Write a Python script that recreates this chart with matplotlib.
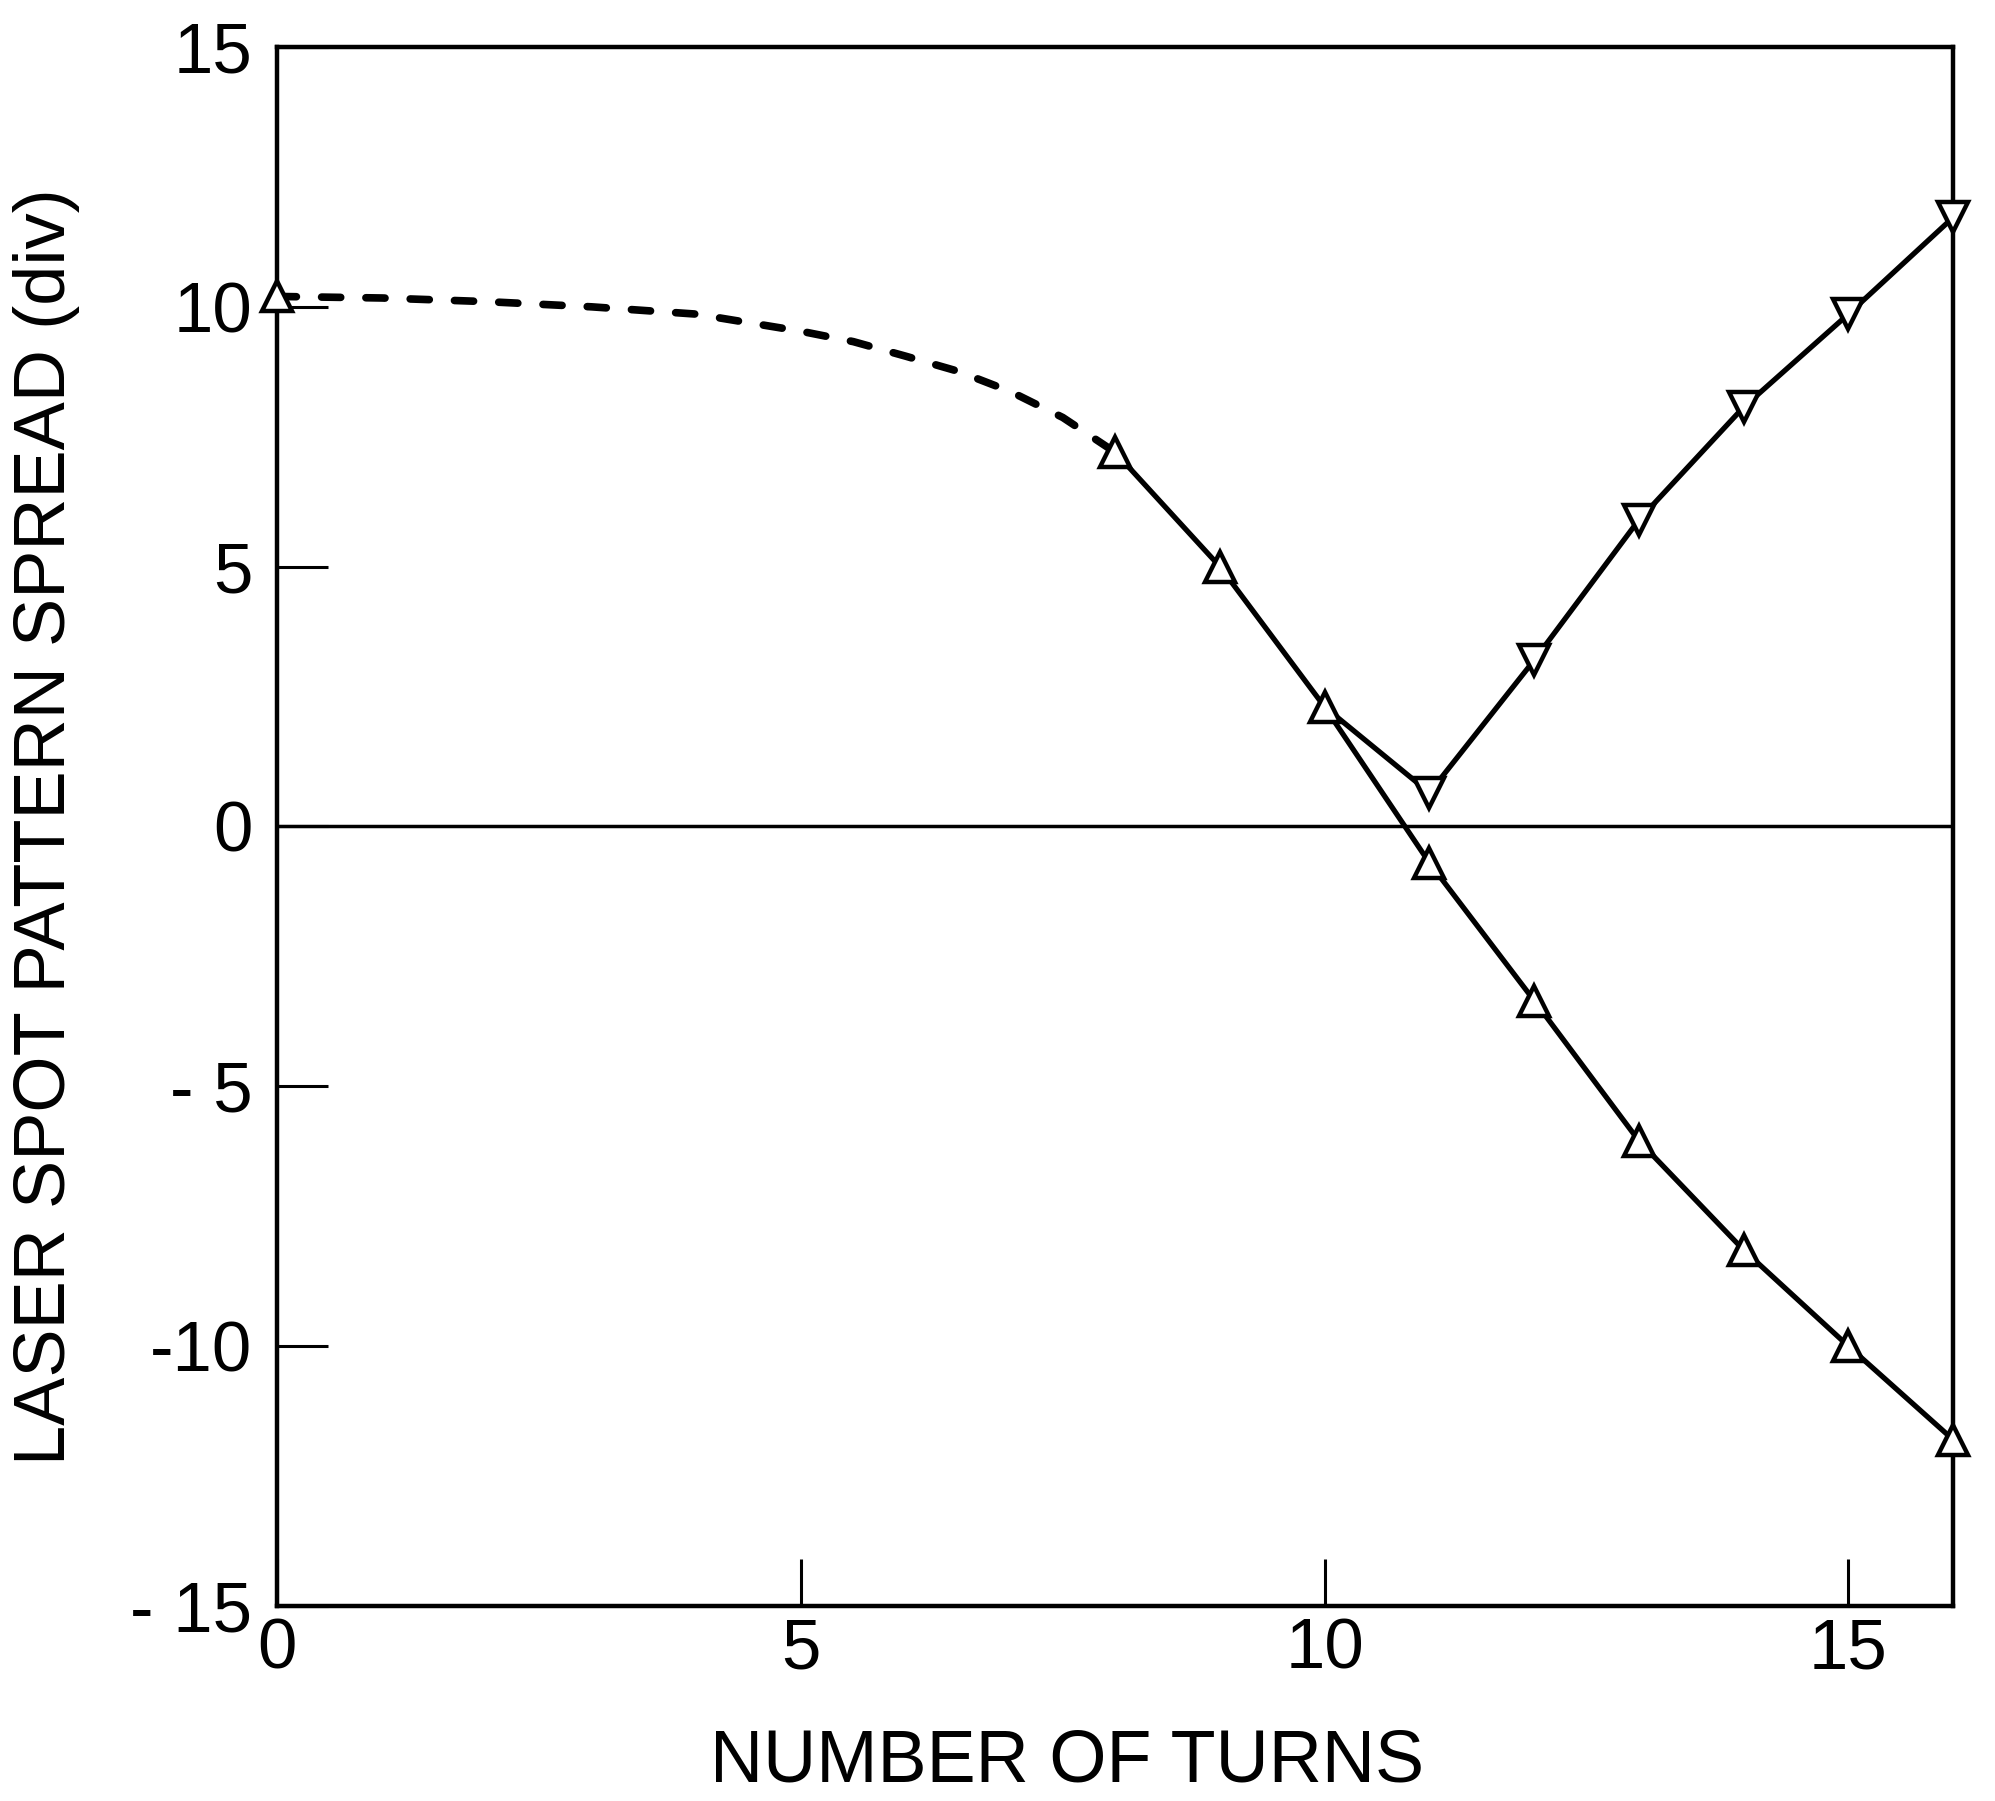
import numpy as np
import matplotlib
matplotlib.use("Agg")
import matplotlib.pyplot as plt

plt.rcParams['font.family'] = ['Liberation Sans', 'DejaVu Sans']

# dashed part (extrapolated) of the first series
turns_dash = [0, 1, 2, 3, 4, 5, 5.5, 6, 6.5, 7, 7.5, 8]
spread_dash = [10.2, 10.17, 10.1, 10.0, 9.86, 9.53, 9.33, 9.05, 8.76, 8.37, 7.87, 7.2]

# measured points, upward triangles
turns_up = [8, 9, 10, 11, 12, 13, 14, 15, 16]
spread_up = [7.2, 5.0, 2.3, -0.7, -3.35, -6.05, -8.15, -10.0, -11.8]
turns_up0 = [0]
spread_up0 = [10.2]

# second branch, downward triangles (starts from the point at 10 turns)
turns_down = [10, 11, 12, 13, 14, 15, 16]
spread_down = [2.3, 0.65, 3.2, 5.9, 8.07, 9.86, 11.72]

xticks = [0, 5, 10, 15]
xtick_labels = ['0', '5', '10', '15']
yticks = [-15, -10, -5, 0, 5, 10, 15]
ytick_labels = ['- 15', '-10', '- 5', '0', '5', '10', '15']

fig = plt.figure(figsize=(19.95, 18.01), dpi=100)
ax = fig.add_axes([0.139, 0.1083, 0.840, 0.8656])

# zero line
ax.axhline(0, color='black', lw=2.5, zorder=1)

ax.plot(turns_dash, spread_dash, color='black', lw=5.5, ls=(0, (2.5, 3.3)),
        dash_capstyle='round', zorder=2)
ax.plot(turns_up, spread_up, color='black', lw=3.8, zorder=2)
ax.plot(turns_down, spread_down, color='black', lw=3.8, zorder=2)

mk = dict(ls='none', ms=22, mfc='white', mec='black', mew=3.2, zorder=5, clip_on=False)
ax.plot(turns_up0 + turns_up, spread_up0 + spread_up, marker='^', **mk)
ax.plot(turns_down[1:], spread_down[1:], marker='v', **mk)

ax.set_xlim(0, 16)
ax.set_ylim(-15, 15)
ax.set_xticks(xticks)
ax.set_xticklabels(xtick_labels)
ax.set_yticks(yticks)
ax.set_yticklabels(ytick_labels)

ax.tick_params(axis='y', direction='in', length=37, width=2.2, labelsize=51, pad=18, right=False)
ax.tick_params(axis='x', direction='in', length=34, width=2.2, labelsize=51, pad=8, top=False)

for s in ax.spines.values():
    s.set_linewidth(3.2)

ax.set_xlabel('NUMBER OF TURNS', fontsize=53)
ax.xaxis.set_label_coords(0.471, -0.078)
ax.set_ylabel('LASER SPOT PATTERN SPREAD (div)', fontsize=52)
ax.yaxis.set_label_coords(-0.118, 0.50)

fig.savefig('out.png', dpi=100)
